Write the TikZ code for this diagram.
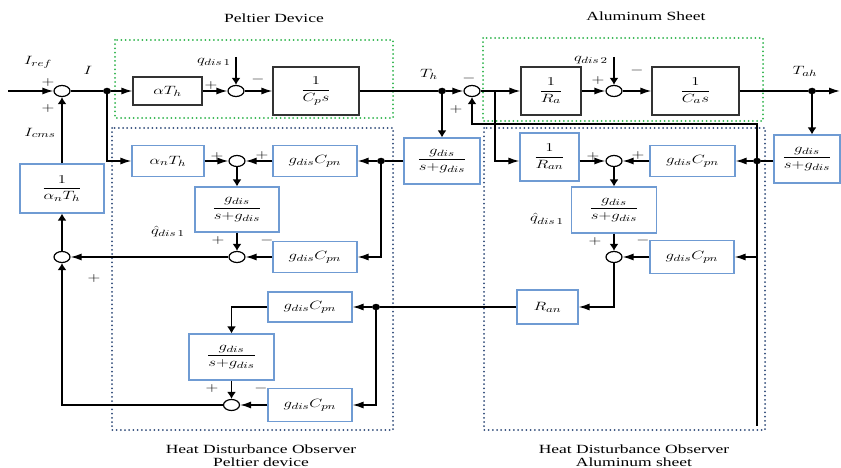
\documentclass[tikz,border=0pt]{standalone}
\usepackage{fontspec}
\setmainfont{Liberation Serif}
\usepackage{amsmath}
\usepackage{graphicx}
\usetikzlibrary{arrows.meta,shapes.geometric}
\definecolor{grn}{HTML}{2CB34A}
\definecolor{navy}{HTML}{2E4A78}
\definecolor{obsblue}{HTML}{6F9BD3}
\definecolor{plantgray}{HTML}{333333}
% horizontally widened lettering
\newcommand\sx[1]{\scalebox{1.4}[1]{#1}}
% filter block g/(s+g)
\newcommand\gfrac{\sx{$\dfrac{g_{dis}}{s{+}g_{dis}}$}}

\begin{document}
\begin{tikzpicture}[x=1pt,y=-1pt,
  wire/.style={line width=1.4pt},
  hsig/.style={wire,-{Latex[length=11pt,width=7pt]}},
  vsig/.style={wire,-{Latex[length=7pt,width=9pt]}},
  plant/.style={draw=plantgray, line width=1.1pt, fill=white, inner sep=0pt, font=\fontsize{13}{15}\selectfont},
  obs/.style={draw=obsblue, line width=1.1pt, fill=white, inner sep=0pt, font=\fontsize{13}{15}\selectfont},
  sum/.style={ellipse, draw, line width=1.2pt, fill=white, minimum width=16pt, minimum height=11pt, inner sep=0pt},
  jdot/.style={ellipse, fill, minimum width=8pt, minimum height=6.5pt, inner sep=0pt},
  lbl/.style={inner sep=0pt, font=\fontsize{13}{15}\selectfont},
  sgn/.style={inner sep=0pt, font=\fontsize{12}{13}\selectfont},
  ttl/.style={inner sep=0pt, align=center, font=\fontsize{12.5}{13}\selectfont},
  grnbox/.style={draw=grn, line width=2pt, dash pattern=on 0pt off 4.2pt, line cap=round},
  navybox/.style={draw=navy, line width=2pt, dash pattern=on 0pt off 4.2pt, line cap=round},
]
\useasboundingbox (0,0) rectangle (841,468);

% group frames
\draw[grnbox] (115,40) rectangle (393,118);
\draw[grnbox] (483,38) rectangle (763,121);
\draw[navybox] (112,128) rectangle (393,430);
\draw[navybox] (484,128) rectangle (765,430);

% titles
\node[ttl] (tPel) at (274,18) {\sx{Peltier Device}};
\node[ttl] (tAlu) at (646,16) {\sx{Aluminum Sheet}};
\node[ttl] (tObsP) at (261,456) {\sx{Heat Disturbance Observer}\\\sx{Peltier device}};
\node[ttl] (tObsA) at (634,456) {\sx{Heat Disturbance Observer}\\\sx{Aluminum sheet}};

% plant blocks
\node[plant, minimum width=69pt, minimum height=28pt] (aT) at (167.5,91) {\sx{$\alpha T_h$}};
\node[plant, minimum width=86pt, minimum height=48pt] (cps) at (316,91) {\sx{$\dfrac{1}{C_p s}$}};
\node[plant, minimum width=60pt, minimum height=48pt] (ra) at (551,91) {\sx{$\dfrac{1}{R_a}$}};
\node[plant, minimum width=87pt, minimum height=48pt] (cas) at (695.5,91) {\sx{$\dfrac{1}{C_a s}$}};

% observer blocks
\node[obs, minimum width=84pt, minimum height=49pt] (ainv) at (62,188.5) {\sx{$\dfrac{1}{\alpha_n T_h}$}};
\node[obs, minimum width=72pt, minimum height=31pt] (anT) at (168,161) {\sx{$\alpha_n T_h$}};
\node[obs, minimum width=84pt, minimum height=31pt] (gC1) at (315,161) {\sx{$g_{dis}C_{pn}$}};
\node[obs, minimum width=84pt, minimum height=45pt] (gf1) at (237,209.5) {\gfrac};
\node[obs, minimum width=84pt, minimum height=31pt] (gC2) at (315,257) {\sx{$g_{dis}C_{pn}$}};
\node[obs, minimum width=76pt, minimum height=46pt] (gfT) at (442,161) {\gfrac};
\node[obs, minimum width=84pt, minimum height=30pt] (gC3) at (310,307) {\sx{$g_{dis}C_{pn}$}};
\node[obs, minimum width=85pt, minimum height=46pt] (gf2) at (231.5,357) {\gfrac};
\node[obs, minimum width=84pt, minimum height=33pt] (gC4) at (310,405) {\sx{$g_{dis}C_{pn}$}};
\node[obs, minimum width=59pt, minimum height=48pt] (rinv) at (549.5,157) {\sx{$\dfrac{1}{R_{an}}$}};
\node[obs, minimum width=85pt, minimum height=31pt] (gC5) at (692.5,161) {\sx{$g_{dis}C_{pn}$}};
\node[obs, minimum width=85pt, minimum height=46pt] (gf3) at (614,210) {\gfrac};
\node[obs, minimum width=84pt, minimum height=33pt] (gC6) at (692,257) {\sx{$g_{dis}C_{pn}$}};
\node[obs, minimum width=61pt, minimum height=34pt] (ran) at (547.5,307) {\sx{$R_{an}$}};
\node[obs, minimum width=66pt, minimum height=48pt] (gfA) at (807,159) {\gfrac};

% summing points
\node[sum] (s1) at (62,91) {};
\node[sum] (s2) at (236,91) {};
\node[sum] (s3) at (472,91) {};
\node[sum] (s4) at (614,91) {};
\node[sum] (s8) at (237,161) {};
\node[sum] (s9) at (237,257) {};
\node[sum] (s7) at (62,257) {};
\node[sum] (s10) at (231.5,405) {};
\node[sum] (s5) at (614,161) {};
\node[sum] (s6) at (614,257) {};

% branch points
\node[jdot] (d1) at (107,91) {};
\node[jdot] (dTh) at (442,91) {};
\node[jdot] (dTah) at (812,91) {};
\node[jdot] (dP) at (381,161) {};
\node[jdot] (dA) at (757,161) {};
\node[jdot] (dR) at (376,307) {};

% free ends and corners
\coordinate (in) at (8,91);
\coordinate (out) at (840,91);
\coordinate (q1) at (236,57);
\coordinate (q2) at (614,57);
\coordinate (br) at (495,91);
\coordinate (fbk) at (757,124);
\coordinate (aEnd) at (757,426);

% forward path
\draw[hsig] (in) -- (s1);
\draw[wire] (s1) -- (d1);
\draw[hsig] (d1) -- (aT);
\draw[hsig] (aT) -- (s2);
\draw[vsig] (q1) -- (s2);
\draw[hsig] (s2) -- (cps);
\draw[wire] (cps) -- (dTh);
\draw[hsig] (dTh) -- (s3);
\draw[hsig] (s3) -- (ra);
\draw[hsig] (ra) -- (s4);
\draw[vsig] (q2) -- (s4);
\draw[hsig] (s4) -- (cas);
\draw[wire] (cas) -- (dTah);
\draw[hsig] (dTah) -- (out);
\draw[vsig] (dTh) -- (dTh |- gfT.north);
\draw[vsig] (dTah) -- (dTah |- gfA.north);

% Peltier observer
\draw[hsig] (d1) |- (anT.west);
\draw[hsig] (anT) -- (s8);
\draw[hsig] (gC1) -- (s8);
\draw[vsig] (s8) -- (gf1);
\draw[vsig] (gf1) -- (s9);
\draw[hsig] (gC2) -- (s9);
\draw[hsig] (s9) -- (s7);
\draw[vsig] (s7) -- (ainv);
\draw[vsig] (ainv) -- (s1);
\draw[wire] (gfT.west) -- (dP);
\draw[hsig] (dP) -- (gC1);
\draw[hsig] (dP) |- (gC2.east);

% aluminium observer
\draw[hsig] (br) |- (rinv.west |- s5);
\draw[hsig] (rinv.east |- s5) -- (s5);
\draw[hsig] (gC5) -- (s5);
\draw[vsig] (s5) -- (gf3);
\draw[vsig] (gf3) -- (s6);
\draw[hsig] (gC6) -- (s6);
\draw[hsig] (s6) |- (ran.east);
\draw[wire] (gfA.west |- dA) -- (dA);
\draw[hsig] (dA) -- (gC5);
\draw[hsig] (dA) |- (gC6.east);
\draw[wire] (dA) -- (aEnd);
\draw[vsig] (dA) -- (fbk) -| (s3.south);

% disturbance estimate back to current
\draw[wire] (ran.west) -- (dR);
\draw[hsig] (dR) -- (gC3);
\draw[hsig] (dR) |- (gC4.east);
\draw[vsig] (gC3.west) -| (gf2.north);
\draw[vsig] (gf2) -- (s10);
\draw[hsig] (gC4) -- (s10);
\draw[vsig] (s10) -| (s7.south);

% signal labels
\node[lbl] (lIref) at (38,62) {\sx{$I_{ref}$}};
\node[lbl] (lI) at (88,70) {\sx{$I$}};
\node[lbl] (lIcms) at (40,133) {\sx{$I_{cms}$}};
\node[lbl] (lq1) at (214,62) {\sx{$q_{dis\,1}$}};
\node[lbl] (lTh) at (429,74) {\sx{$T_h$}};
\node[lbl] (lq2) at (591,60) {\sx{$q_{dis\,2}$}};
\node[lbl] (lTah) at (805,71) {\sx{$T_{ah}$}};
\node[lbl] (lqh1) at (168,231) {\sx{$\hat{q}_{dis\,1}$}};
\node[lbl] (lqh2) at (547,219) {\sx{$\hat{q}_{dis\,1}$}};

% signs at the summing points
\foreach \p/\x/\y in {a/48/83, b/48/109, c/211/86, d/456/110, e/598/81, f/217/157, g/262/156, h/218/240, i/94/278, j/593/157, k/638/156, l/595/241, m/212/388}
  \node[sgn] (plus\p) at (\x,\y) {\sx{$+$}};
\foreach \p/\x/\y in {a/258/80, b/469/79, c/637/71, d/267/240, e/643/240, f/261/388}
  \node[sgn] (minus\p) at (\x,\y) {\sx{$-$}};
\end{tikzpicture}
\end{document}
